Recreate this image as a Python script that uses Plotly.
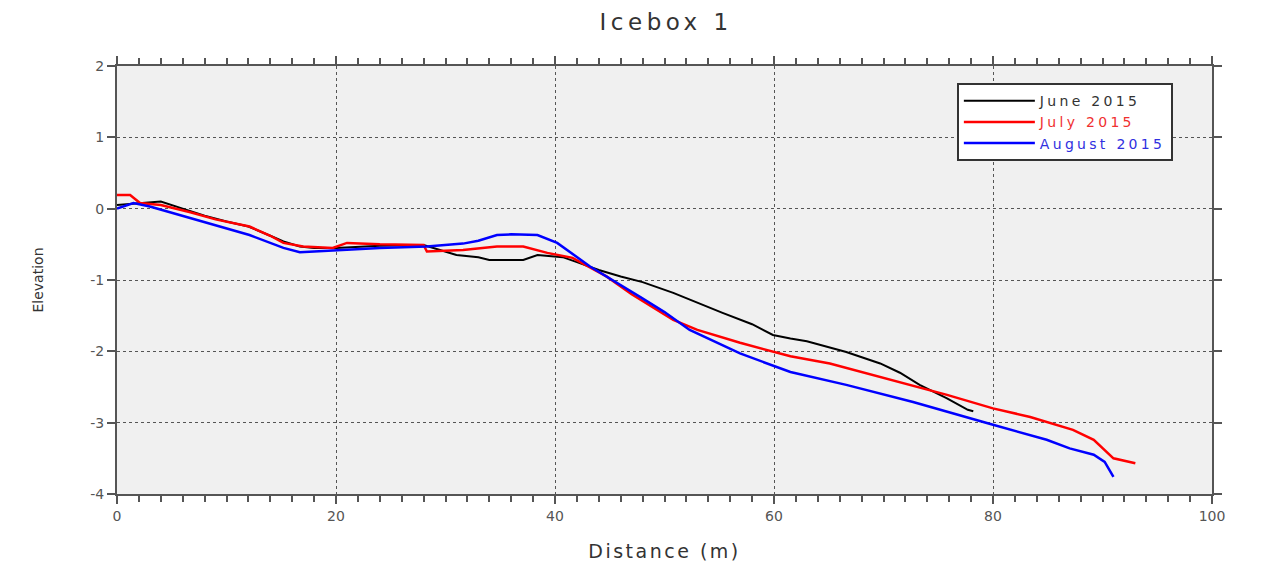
import plotly.graph_objects as go

june_x = [0, 2, 4, 6, 8, 10, 12, 14, 15.2, 16.7, 18, 20, 24, 28, 30, 31, 33, 34, 35, 37.1, 38.4, 40.7, 42, 44, 46, 48, 50.8, 53, 55.3, 58, 59.9, 61.5, 63, 66.6, 69.7, 71.5, 73.3, 75.8, 77.7, 78.2]
june_y = [0.05, 0.08, 0.1, 0.0, -0.1, -0.18, -0.25, -0.38, -0.46, -0.53, -0.55, -0.55, -0.52, -0.51, -0.6, -0.65, -0.68, -0.72, -0.72, -0.72, -0.65, -0.68, -0.75, -0.86, -0.95, -1.03, -1.18, -1.32, -1.46, -1.62, -1.77, -1.82, -1.86, -2.01, -2.17, -2.3, -2.47, -2.66, -2.82, -2.84]

july_x = [0, 1.2, 2.1, 4, 6.7, 9, 12.1, 14, 15.2, 17, 19.7, 21, 24, 28, 28.3, 31.6, 34.7, 37.1, 39.3, 41.6, 44.7, 47, 50.8, 53, 56.9, 61.5, 65.1, 69.7, 72, 75.8, 80, 83.4, 87.3, 89.2, 91, 93]
july_y = [0.19, 0.19, 0.08, 0.05, -0.05, -0.15, -0.25, -0.38, -0.48, -0.53, -0.55, -0.48, -0.5, -0.51, -0.6, -0.58, -0.53, -0.53, -0.62, -0.69, -0.95, -1.2, -1.56, -1.7, -1.88, -2.07, -2.17, -2.36, -2.45, -2.61, -2.8, -2.92, -3.1, -3.24, -3.5, -3.57]

aug_x = [0, 1.5, 3, 6.7, 9, 12.1, 15.2, 16.7, 18, 20, 24, 28.3, 31.6, 33, 34.7, 36, 38.4, 40.2, 42.3, 43.2, 47.8, 50, 52.3, 56.9, 61.5, 66.6, 72.7, 76, 80, 84.9, 87, 89.2, 90.2, 91]
aug_y = [0.0, 0.08, 0.03, -0.13, -0.23, -0.37, -0.55, -0.61, -0.6, -0.58, -0.55, -0.53, -0.49, -0.45, -0.37, -0.36, -0.37, -0.48, -0.72, -0.81, -1.24, -1.45, -1.7, -2.03, -2.29, -2.47, -2.71, -2.85, -3.03, -3.24, -3.36, -3.45, -3.55, -3.76]

x_tickvals = [0, 20, 40, 60, 80, 100]
x_ticktext = ["0", "20", "40", "60", "80", "100"]
y_tickvals = [2, 1, 0, -1, -2, -3, -4]
y_ticktext = ["2", "1", "0", "-1", "-2", "-3", "-4"]

series = [
    ("June 2015", june_x, june_y, "#000000", "#333333", 2),
    ("July 2015", july_x, july_y, "#ff0000", "#f03030", 2.5),
    ("August 2015", aug_x, aug_y, "#0000ff", "#3030e0", 2.5),
]

FONT = "DejaVu Sans, Liberation Sans, Arial"

def spaced(text, ls, color=None):
    style = f"letter-spacing:{ls}px"
    if color:
        style += f";color:{color}"
    return f'<span style="{style}">{text}</span>'

fig = go.Figure()
for name, xs, ys, col, tcol, w in series:
    fig.add_trace(go.Scatter(
        x=xs, y=ys, mode="lines",
        name=spaced(name, 3.3, tcol),
        line=dict(color=col, width=w),
    ))

axis_common = dict(
    showline=True, linecolor="#555555", linewidth=2, mirror="allticks",
    ticks="outside", ticklen=8, tickwidth=2, tickcolor="#555555",
    showgrid=True, gridcolor="#555555", griddash="dot", gridwidth=1,
    zeroline=False,
    tickfont=dict(family=FONT, size=14, color="#555555"),
)

fig.update_xaxes(
    range=[0, 100], tickvals=x_tickvals, ticktext=x_ticktext,
    minor=dict(dtick=2, ticks="outside", ticklen=6, tickwidth=2, tickcolor="#555555", showgrid=False),
    title=dict(text=spaced("Distance (m)", 2.5), font=dict(family=FONT, size=19, color="#333333"), standoff=22),
    **axis_common,
)
fig.update_yaxes(
    range=[-4, 2], tickvals=y_tickvals, ticktext=y_ticktext,
    title=dict(text="Elevation", font=dict(family=FONT, size=14, color="#333333"), standoff=43),
    **axis_common,
)

fig.update_layout(
    width=1264, height=574,
    margin=dict(l=117, r=52, t=66, b=80),
    paper_bgcolor="white", plot_bgcolor="#f0f0f0",
    title=dict(text=spaced("Icebox 1", 4.5), x=0.527, xanchor="center", y=0.962, yanchor="middle",
               font=dict(family=FONT, size=23, color="#333333")),
    showlegend=True,
    legend=dict(x=0.767, y=0.96, xanchor="left", yanchor="top",
                bgcolor="white", bordercolor="#333333", borderwidth=2,
                font=dict(family=FONT, size=14),
                tracegroupgap=0, itemwidth=71),
)

fig.write_html("out.html")
